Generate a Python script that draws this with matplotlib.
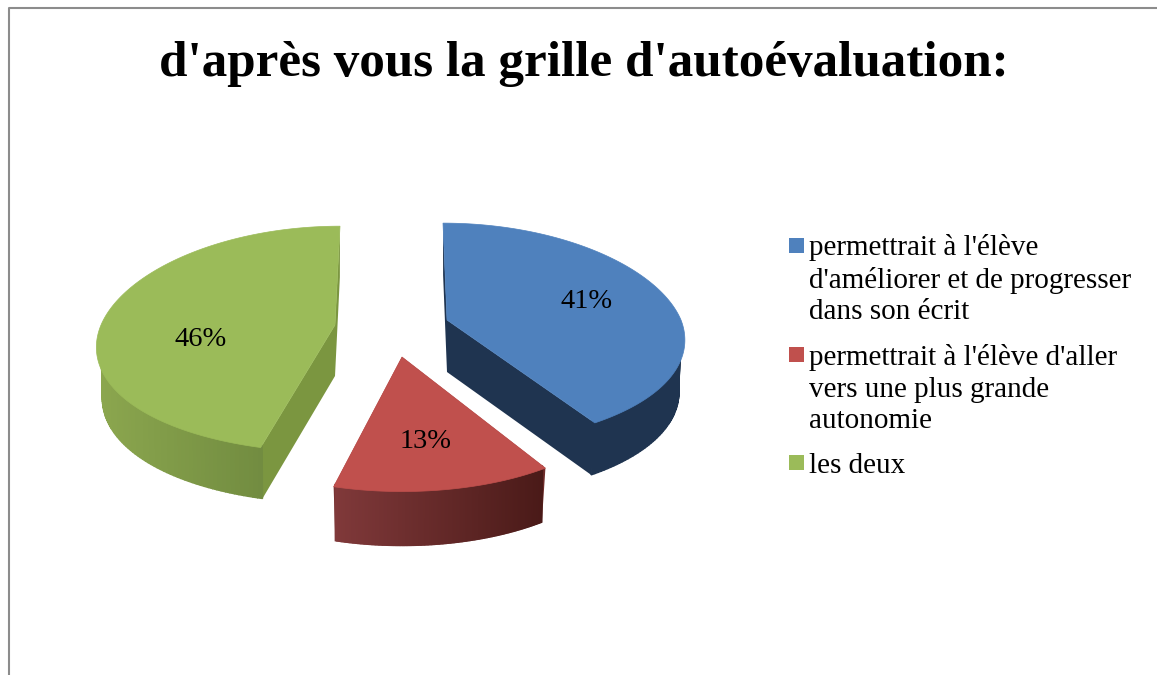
import numpy as np
import matplotlib
matplotlib.use("Agg")
import matplotlib.pyplot as plt
from matplotlib.patches import Polygon, Rectangle

title = "d'après vous la grille d'autoévaluation:"
labels = ["permettrait à l'élève\nd'améliorer et de progresser\ndans son écrit",
          "permettrait à l'élève d'aller\nvers une plus grande\nautonomie",
          "les deux"]
shares = [41, 13, 46]
top_colors = ["#4f81bd", "#c0504d", "#9bbb59"]
side_left = ["#1f3450", "#80393a", "#8ba64e"]
side_right = ["#1f3450", "#4a1a18", "#66803a"]
cut_colors = ["#1f3450", "#6e2b29", "#7b9640"]

# apex of each exploded slice, in picture pixels
apex_x = [447, 402, 335]
apex_y = [320, 357, 325]
far_lean = [-4, 0, 5]
near_lean = [0, 0, -4]
rx_scale = [1, 0.97, 1]
ry_scale = [1, 1.08, 1.02]
depth = [52, 54, 51]
label_x = [587, 426, 201]
label_y = [301, 441, 340]
legend_y = [245.5, 354.5, 462.5]
legend_text_y = [234, 344, 453]

RX, RY, KX, KY, BOTTOM = 234, 109, 0.18, 0.125, 0.975


def arc(i, a0, a1, n=160):
    t = np.radians(np.linspace(a0, a1, n))
    c = np.cos(t)
    x = apex_x[i] + RX * rx_scale[i] * np.sin(t) / (1 + KX * c)
    x = x + far_lean[i] * np.clip(c, 0, None) + near_lean[i] * np.clip(-c, 0, None)
    y = apex_y[i] - RY * ry_scale[i] * c / (1 + KY * c)
    return x, y


fig = plt.figure(figsize=(11.57, 6.75), dpi=100)
ax = fig.add_axes([0, 0, 1, 1])
ax.set_xlim(0, 1157)
ax.set_ylim(675, 0)
ax.axis("off")
ax.plot([9, 9, 1157], [675, 8, 8], color="#8c8c8c", lw=1.5)
ax.text(584, 64, title, ha="center", va="center", fontsize=36.8,
        fontweight="bold", family="Liberation Serif", color="black")

edges = np.concatenate([[0], np.cumsum(shares) * 3.6])
for i in range(len(shares)):
    x, y = arc(i, edges[i], edges[i + 1])
    ox, oy, d = apex_x[i], apex_y[i], depth[i]
    bx = ox + (x - ox) * BOTTOM
    by = y + d
    # rim starts a bit inside the top face so no stroke shows past it
    ix = ox + (x - ox) * 0.98
    iy = oy + (y - oy) * 0.98
    # inner cut faces
    for k in [0, -1]:
        ax.add_patch(Polygon([(ox, oy), (x[k], y[k]), (bx[k], by[k]), (ox, oy + d)],
                             color=cut_colors[i], lw=0, zorder=2))
    # outer rim with a left to right gradient
    c0 = np.array(matplotlib.colors.to_rgb(side_left[i]))
    c1 = np.array(matplotlib.colors.to_rgb(side_right[i]))
    for j in range(len(x) - 1):
        if y[j] < oy - 40 and y[j + 1] < oy - 40:
            continue
        f = (x[j] - x.min()) / (x.max() - x.min())
        col = c0 + (c1 - c0) * f
        ax.add_patch(Polygon([(ix[j], iy[j]), (ix[j + 1], iy[j + 1]),
                              (bx[j + 1], by[j + 1]), (bx[j], by[j])],
                             facecolor=col, edgecolor=col, lw=1.0, zorder=3))
    ax.add_patch(Polygon(np.column_stack([np.r_[ox, x], np.r_[oy, y]]),
                         facecolor=top_colors[i], edgecolor=top_colors[i], lw=0.5, zorder=4))
    ax.text(label_x[i], label_y[i], f"{shares[i]}%", ha="center", va="center",
            fontsize=20.5, family="Liberation Serif", color="black", zorder=5)
    ax.add_patch(Rectangle((789, legend_y[i] - 7.5), 15, 15, color=top_colors[i], lw=0))
    ax.text(809, legend_text_y[i], labels[i], ha="left", va="top", fontsize=21,
            family="Liberation Serif", color="black", linespacing=1.28)

fig.savefig("out.png", dpi=100, facecolor="white")
